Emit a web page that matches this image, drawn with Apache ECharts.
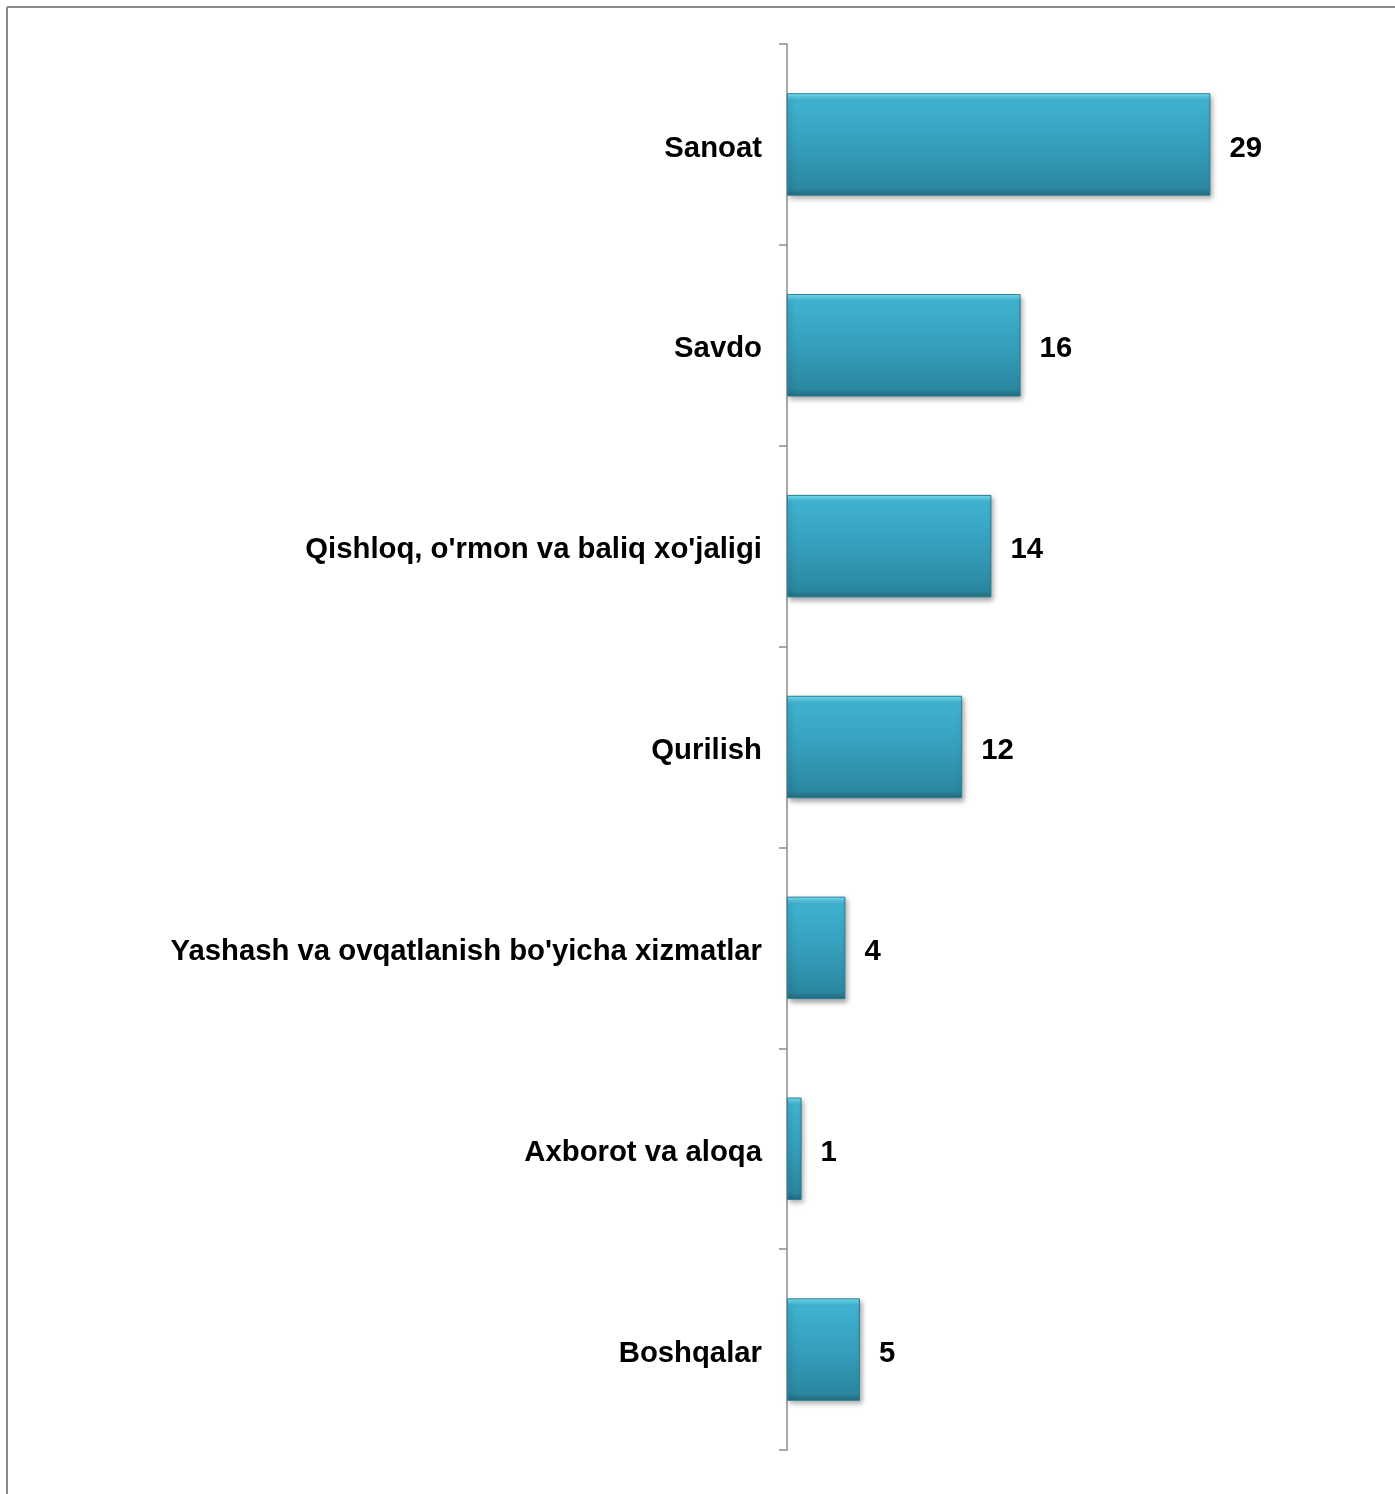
<!DOCTYPE html>
<html>
<head>
<meta charset="utf-8">
<script src="https://cdn.jsdelivr.net/npm/echarts@6/dist/echarts.min.js"></script>
<style>
html,body{margin:0;padding:0;background:#fff;}
#c{width:1395px;height:1494px;}
</style>
</head>
<body>
<div id="c"></div>
<script>
const categories = ["Sanoat", "Savdo", "Qishloq, o'rmon va baliq xo'jaligi", "Qurilish", "Yashash va ovqatlanish bo'yicha xizmatlar", "Axborot va aloqa", "Boshqalar"];
const values = [29, 16, 14, 12, 4, 1, 5];

const chart = echarts.init(document.getElementById('c'), null, {renderer: 'canvas'});
const barColor = new echarts.graphic.LinearGradient(0, 0, 0, 1, [
  {offset: 0, color: '#7ae6fa'},
  {offset: 0.07, color: '#3fb2d0'},
  {offset: 0.5, color: '#359fbc'},
  {offset: 0.93, color: '#2b87a0'},
  {offset: 1, color: '#22697e'}
]);
chart.setOption({
  animation: false,
  backgroundColor: '#ffffff',
  grid: {left: 787, right: 97, top: 44, bottom: 44, containLabel: false},
  xAxis: {
    type: 'value', min: 0, max: 35, show: false
  },
  yAxis: {
    type: 'category', data: categories, inverse: true,
    axisLine: {show: true, lineStyle: {color: '#8c8c8c', width: 1.5}},
    axisTick: {show: true, length: 8, lineStyle: {color: '#8c8c8c', width: 1.5}},
    axisLabel: {
      margin: 25, color: '#000', verticalAlign: 'top', lineHeight: 8,
      fontFamily: 'Liberation Sans, Arial, sans-serif', fontWeight: 'bold', fontSize: 29.3
    },
    splitLine: {show: false}
  },
  series: [{
    type: 'bar', data: values, barWidth: '51%',
    itemStyle: {
      color: barColor,
      borderColor: '#2a7f96', borderWidth: 1,
      shadowColor: 'rgba(0,0,0,0.35)', shadowBlur: 5, shadowOffsetX: 2, shadowOffsetY: 3
    },
    label: {
      show: true, position: 'right', distance: 19, color: '#000', offset: [0, 4],
      fontFamily: 'Liberation Sans, Arial, sans-serif', fontWeight: 'bold', fontSize: 29.3
    }
  }],
  graphic: [
    {type: 'line', shape: {x1: 7, y1: 7, x2: 1395, y2: 7}, style: {stroke: '#8a8a8a', lineWidth: 2}},
    {type: 'line', shape: {x1: 7, y1: 7, x2: 7, y2: 1494}, style: {stroke: '#8a8a8a', lineWidth: 2}}
  ]
});
</script>
</body>
</html>
